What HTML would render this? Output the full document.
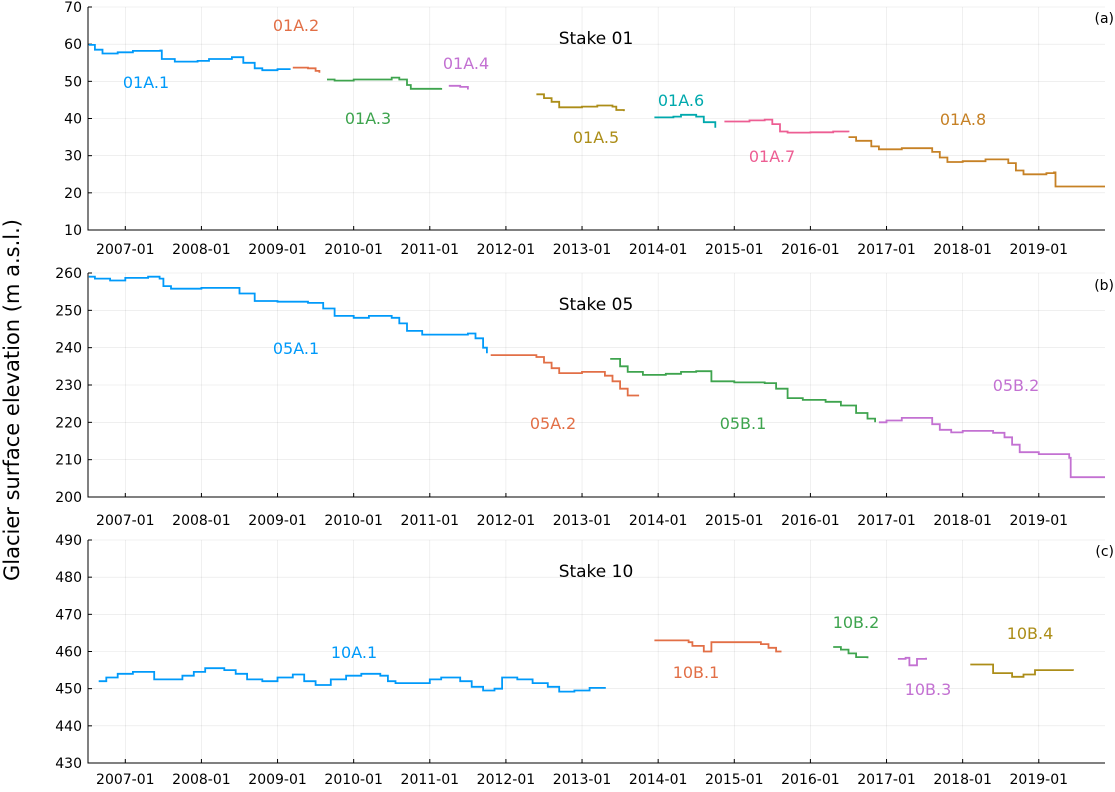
<!DOCTYPE html>
<html><head><meta charset="utf-8">
<style>
html,body{margin:0;padding:0;background:#fff;}
svg{display:block;font-family:"DejaVu Sans","Liberation Sans",sans-serif;}
</style></head>
<body>
<svg id="chart" width="1115" height="792" viewBox="0 0 1115 792"></svg>
<script>
// ---- data ----
const xTickLabels = ["2007-01","2008-01","2009-01","2010-01","2011-01","2012-01","2013-01","2014-01","2015-01","2016-01","2017-01","2018-01","2019-01"];
const xTickYears = [2007,2008,2009,2010,2011,2012,2013,2014,2015,2016,2017,2018,2019];
const panelTitles = ["Stake 01","Stake 05","Stake 10"];
const panelTags = ["(a)","(b)","(c)"];
const yTicksA = [10,20,30,40,50,60,70];
const yTicksB = [200,210,220,230,240,250,260];
const yTicksC = [430,440,450,460,470,480,490];

const s01A1 = [[2006.52,59.8],[2006.6,58.5],[2006.7,57.5],[2006.9,57.8],[2007.1,58.2],[2007.46,58.3],[2007.48,56],[2007.65,55.3],[2007.95,55.5],[2008.1,56],[2008.4,56.5],[2008.55,55],[2008.7,53.5],[2008.8,53],[2009.0,53.3],[2009.16,53.5]];
const s01A2 = [[2009.2,53.7],[2009.4,53.5],[2009.5,52.8],[2009.55,52.3]];
const s01A3 = [[2009.65,50.5],[2009.75,50.2],[2010.0,50.5],[2010.5,51],[2010.6,50.5],[2010.7,49],[2010.75,48],[2011.15,48.2]];
const s01A4 = [[2011.25,48.8],[2011.4,48.5],[2011.5,47.8]];
const s01A5 = [[2012.4,46.5],[2012.5,45.5],[2012.6,44.5],[2012.7,43],[2013.0,43.2],[2013.2,43.5],[2013.4,43.2],[2013.45,42.3],[2013.55,42]];
const s01A6 = [[2013.95,40.3],[2014.2,40.5],[2014.3,41],[2014.5,40.5],[2014.6,39],[2014.75,37.5]];
const s01A7 = [[2014.87,39.2],[2015.2,39.5],[2015.4,39.7],[2015.5,38.5],[2015.6,36.5],[2015.7,36.2],[2016.0,36.3],[2016.3,36.5],[2016.5,36.3]];
const s01A8 = [[2016.5,35],[2016.6,34],[2016.8,32.5],[2016.9,31.7],[2017.2,32],[2017.5,32],[2017.6,31],[2017.7,29.5],[2017.8,28.3],[2018.0,28.5],[2018.3,29],[2018.5,29],[2018.6,28],[2018.7,26],[2018.8,25],[2019.1,25.3],[2019.2,25.5],[2019.22,21.7],[2019.87,21.7]];

const s05A1 = [[2006.52,259],[2006.6,258.5],[2006.8,258],[2007.0,258.7],[2007.3,259],[2007.45,258.5],[2007.5,256.5],[2007.6,255.8],[2008.0,256],[2008.35,256],[2008.5,254.5],[2008.7,252.5],[2009.0,252.3],[2009.4,252],[2009.6,250.5],[2009.75,248.5],[2010.0,248],[2010.2,248.5],[2010.5,248],[2010.6,246.5],[2010.7,244.5],[2010.9,243.5],[2011.2,243.5],[2011.5,243.8],[2011.6,242.5],[2011.7,240],[2011.75,238.5]];
const s05A2 = [[2011.8,238],[2012.2,238],[2012.4,237.5],[2012.5,236],[2012.6,234.5],[2012.7,233.2],[2013.0,233.5],[2013.3,232.5],[2013.4,231],[2013.5,229],[2013.6,227.2],[2013.75,227.2]];
const s05B1 = [[2013.37,237],[2013.5,235],[2013.6,233.5],[2013.8,232.7],[2014.1,233],[2014.3,233.5],[2014.5,233.7],[2014.7,231],[2015.0,230.7],[2015.4,230.5],[2015.55,229],[2015.7,226.5],[2015.9,226],[2016.2,225.5],[2016.4,224.5],[2016.6,222.5],[2016.75,221],[2016.85,220]];
const s05B2 = [[2016.9,220],[2017.0,220.5],[2017.2,221.2],[2017.5,221.2],[2017.6,219.5],[2017.7,218],[2017.85,217.3],[2018.0,217.7],[2018.4,217.2],[2018.55,216],[2018.65,214],[2018.75,212],[2019.0,211.5],[2019.25,211.5],[2019.4,210.5],[2019.42,205.3],[2019.87,205.3]];

const s10A1 = [[2006.65,452],[2006.75,453],[2006.9,454],[2007.1,454.5],[2007.35,454.5],[2007.38,452.5],[2007.7,452.5],[2007.75,453.5],[2007.9,454.5],[2008.05,455.5],[2008.3,455],[2008.45,454],[2008.6,452.5],[2008.8,452],[2009.0,453],[2009.2,453.8],[2009.35,452],[2009.5,451],[2009.7,452.5],[2009.9,453.5],[2010.1,454],[2010.35,453.5],[2010.45,452],[2010.55,451.5],[2010.9,451.5],[2011.0,452.5],[2011.15,453],[2011.4,452],[2011.55,450.5],[2011.7,449.5],[2011.85,450],[2011.95,453],[2012.15,452.5],[2012.35,451.5],[2012.55,450.5],[2012.7,449.2],[2012.9,449.5],[2013.1,450.2],[2013.3,450]];
const s10B1 = [[2013.95,463],[2014.4,462.5],[2014.45,461.5],[2014.6,460],[2014.7,462.5],[2015.2,462.5],[2015.35,462],[2015.45,461],[2015.55,460],[2015.62,460]];
const s10B2 = [[2016.3,461.2],[2016.4,460.5],[2016.5,459.5],[2016.6,458.5],[2016.75,458.2]];
const s10B3 = [[2017.15,458],[2017.25,458.3],[2017.3,456.3],[2017.4,458],[2017.52,458.3]];
const s10B4 = [[2018.1,456.5],[2018.35,456.5],[2018.4,454.2],[2018.55,454.2],[2018.65,453.2],[2018.8,453.8],[2018.95,455],[2019.4,455],[2019.45,454.8]];

const C = {blue:"#009AFA",orange:"#E26F46",green:"#3EA44E",purple:"#C371D2",olive:"#AC8D18",teal:"#00A9AD",pink:"#ED5E93",brown:"#C68125"};

const panels = [
 {top:7,bottom:230,ymin:10,ymax:70,ticks:yTicksA,labY:249,series:[
  {d:s01A1,c:C.blue,n:"01A.1",lx:146,ly:82},{d:s01A2,c:C.orange,n:"01A.2",lx:296,ly:25},
  {d:s01A3,c:C.green,n:"01A.3",lx:368,ly:118},{d:s01A4,c:C.purple,n:"01A.4",lx:466,ly:63},
  {d:s01A5,c:C.olive,n:"01A.5",lx:596,ly:137},{d:s01A6,c:C.teal,n:"01A.6",lx:681,ly:100},
  {d:s01A7,c:C.pink,n:"01A.7",lx:772,ly:156},{d:s01A8,c:C.brown,n:"01A.8",lx:963,ly:119}],
  tx:596,ty:38,tagy:18},
 {top:273,bottom:497,ymin:200,ymax:260,ticks:yTicksB,labY:520,series:[
  {d:s05A1,c:C.blue,n:"05A.1",lx:296,ly:348},{d:s05A2,c:C.orange,n:"05A.2",lx:553,ly:423},
  {d:s05B1,c:C.green,n:"05B.1",lx:743,ly:423},{d:s05B2,c:C.purple,n:"05B.2",lx:1016,ly:385}],
  tx:596,ty:304,tagy:285},
 {top:540,bottom:763,ymin:430,ymax:490,ticks:yTicksC,labY:779,series:[
  {d:s10A1,c:C.blue,n:"10A.1",lx:354,ly:652},{d:s10B1,c:C.orange,n:"10B.1",lx:696,ly:672},
  {d:s10B2,c:C.green,n:"10B.2",lx:856,ly:622},{d:s10B3,c:C.purple,n:"10B.3",lx:928,ly:689},
  {d:s10B4,c:C.olive,n:"10B.4",lx:1030,ly:633}],
  tx:596,ty:571,tagy:551}
];

const svg = document.getElementById('chart');
const NS = "http://www.w3.org/2000/svg";
const L = 88, R = 1105, X0 = 2006.51, X1 = 2019.87;
function xs(v){return L + (v - X0)/(X1 - X0)*(R - L);}
function mk(tag, attrs, parent){const e=document.createElementNS(NS,tag);for(const k in attrs)e.setAttribute(k,attrs[k]);(parent||svg).appendChild(e);return e;}

panels.forEach((p,pi)=>{
  const g = mk('g',{});
  
  
  const ys = v => p.bottom - (v - p.ymin)/(p.ymax - p.ymin)*(p.bottom - p.top);
  // grid
  xTickYears.forEach(y=>{
    const l = mk('line',{x1:xs(y),x2:xs(y),y1:p.top,y2:p.bottom,stroke:'#000','stroke-opacity':0.1,'stroke-width':0.6},g);
    
    
  });
  p.ticks.forEach(v=>{
    const l = mk('line',{x1:L,x2:R,y1:ys(v),y2:ys(v),stroke:'#000','stroke-opacity':0.1,'stroke-width':0.6},g);
    
    
    const t = mk('text',{x:L-6,y:ys(v)+5,'text-anchor':'end','font-size':14,fill:'#000'},g);
    t.textContent = v;
    
    
    mk('line',{x1:L,x2:L+4,y1:ys(v),y2:ys(v),stroke:'#000','stroke-width':1},g);
  });
  xTickYears.forEach((y,i)=>{
    const t = mk('text',{x:xs(y),y:p.labY+5,'text-anchor':'middle','font-size':14,fill:'#000'},g);
    t.textContent = xTickLabels[i];
    
    
    mk('line',{x1:xs(y),x2:xs(y),y1:p.bottom,y2:p.bottom-4,stroke:'#000','stroke-width':1},g);
  });
  // axes
  const ax = mk('path',{d:`M${L},${p.top}V${p.bottom}H${R}`,fill:'none',stroke:'#000','stroke-width':1},g);
  
  
  // series
  p.series.forEach(s=>{
    let d = `M${xs(s.d[0][0]).toFixed(1)},${ys(s.d[0][1]).toFixed(1)}`;
    for(let i=1;i<s.d.length;i++){
      d += `H${xs(s.d[i][0]).toFixed(1)}V${ys(s.d[i][1]).toFixed(1)}`;
    }
    const path = mk('path',{d:d,fill:'none',stroke:s.c,'stroke-width':1.8},g);
    
    
    const t = mk('text',{x:s.lx,y:s.ly+6,'text-anchor':'middle','font-size':16,fill:s.c},g);
    t.textContent = s.n;
    
    
  });
  const tt = mk('text',{x:p.tx,y:p.ty+6,'text-anchor':'middle','font-size':17,fill:'#000'},g);
  tt.textContent = panelTitles[pi];
  
  
  const tg = mk('text',{x:1114,y:p.tagy+5,'text-anchor':'end','font-size':14,fill:'#000'},g);
  tg.textContent = panelTags[pi];
  
  
});
const yt = mk('text',{x:0,y:0,transform:'translate(19,400) rotate(-90)','text-anchor':'middle','font-size':21,fill:'#000'});
yt.textContent = 'Glacier surface elevation (m a.s.l.)';


</script>
</body></html>
